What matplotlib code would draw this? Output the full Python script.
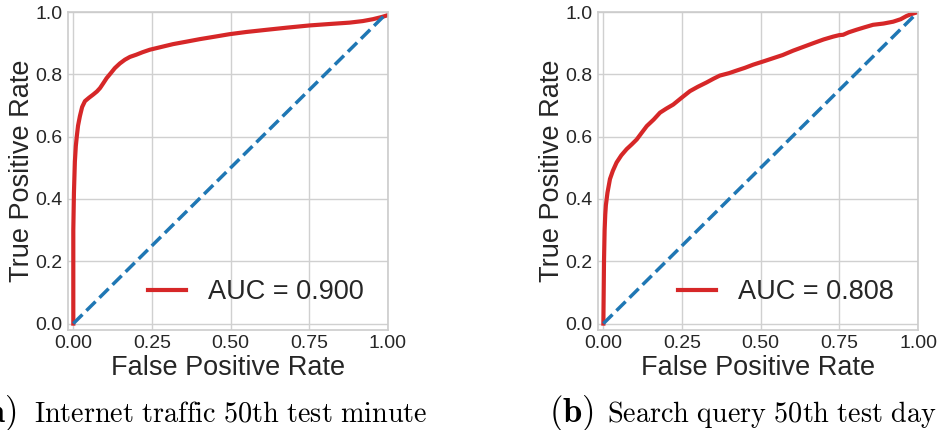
import matplotlib
matplotlib.use("Agg")
import matplotlib.pyplot as plt

plt.rcParams['font.family'] = ['Liberation Sans', 'DejaVu Sans']
plt.rcParams['mathtext.fontset'] = 'cm'

# ROC curve, internet traffic (50th test minute)
fpr_a = [0.0, 0.0, 0.002, 0.005, 0.008, 0.011, 0.015, 0.021, 0.028, 0.037,
         0.05, 0.063, 0.075, 0.085, 0.095, 0.106, 0.12, 0.132, 0.148, 0.164,
         0.18, 0.20, 0.22, 0.243, 0.28, 0.317, 0.36, 0.402, 0.45, 0.497,
         0.55, 0.614, 0.68, 0.751, 0.82, 0.878, 0.92, 0.952, 0.98, 1.0]
tpr_a = [0.0, 0.30, 0.42, 0.52, 0.57, 0.60, 0.635, 0.666, 0.695, 0.714,
         0.725, 0.735, 0.745, 0.756, 0.771, 0.788, 0.805, 0.82, 0.835, 0.847,
         0.856, 0.863, 0.871, 0.879, 0.888, 0.897, 0.905, 0.913, 0.921, 0.929,
         0.936, 0.943, 0.95, 0.957, 0.962, 0.966, 0.971, 0.977, 0.984, 0.99]
auc_a = 0.900

# ROC curve, search query (50th test day)
fpr_b = [0.0, 0.002, 0.004, 0.006, 0.008, 0.013, 0.021, 0.03, 0.042, 0.057,
         0.074, 0.09, 0.106, 0.12, 0.138, 0.16, 0.18, 0.20, 0.222, 0.25,
         0.275, 0.30, 0.328, 0.35, 0.37, 0.40, 0.423, 0.45, 0.476, 0.51,
         0.54, 0.57, 0.603, 0.635, 0.667, 0.70, 0.73, 0.75, 0.762, 0.78,
         0.804, 0.83, 0.857, 0.89, 0.921, 0.945, 0.963, 0.98, 1.0]
tpr_b = [0.0, 0.2, 0.3, 0.35, 0.38, 0.42, 0.464, 0.49, 0.517, 0.54,
         0.56, 0.575, 0.591, 0.61, 0.634, 0.655, 0.677, 0.69, 0.703, 0.726,
         0.746, 0.76, 0.774, 0.786, 0.796, 0.804, 0.812, 0.821, 0.831, 0.842,
         0.852, 0.862, 0.876, 0.888, 0.90, 0.912, 0.921, 0.926, 0.927, 0.935,
         0.943, 0.951, 0.959, 0.963, 0.969, 0.977, 0.987, 0.994, 1.0]
auc_b = 0.808

xticks = [0.0, 0.25, 0.5, 0.75, 1.0]
yticks = [0.0, 0.2, 0.4, 0.6, 0.8, 1.0]

cap_tags = [r'$\mathbf{(a)}$', r'$\mathbf{(b)}$']
cap_texts = [r'$\mathrm{Internet\ traffic\ 50th\ test\ minute}$',
             r'$\mathrm{Search\ query\ 50th\ test\ day}$']
# right edge of the tag, left edge of the text (figure fraction)
tag_x = [0.017, 0.630]
text_x = [0.036, 0.644]

fig = plt.figure(figsize=(9.43, 4.30), dpi=100)
axes = [fig.add_axes([0.0724, 0.233, 0.339, 0.739]),
        fig.add_axes([0.6345, 0.233, 0.339, 0.739])]

for ax, fpr, tpr, auc in zip(axes, [fpr_a, fpr_b], [tpr_a, tpr_b], [auc_a, auc_b]):
    ax.plot(fpr, tpr, color='#d62728', lw=3, label='AUC = %0.3f' % auc)
    ax.plot([0, 1], [0, 1], color='#1f77b4', lw=2.5, linestyle='--')
    ax.set_xlim(-0.016, 1.0)
    ax.set_ylim(-0.02, 1.0)
    ax.set_xticks(xticks)
    ax.set_xticklabels(['%.2f' % t for t in xticks])
    ax.set_yticks(yticks)
    ax.set_yticklabels(['%.1f' % t for t in yticks])
    ax.tick_params(length=0, labelsize=14, labelcolor='#262626', pad=4)
    ax.grid(True, color='#d0d0d0', lw=1)
    ax.set_axisbelow(True)
    for s in ax.spines.values():
        s.set_color('#cccccc')
        s.set_linewidth(1.2)
    ax.set_xlabel('False Positive Rate', fontsize=19.5, color='#262626', labelpad=2)
    ax.set_ylabel('True Positive Rate', fontsize=19.5, color='#262626', labelpad=0.5)
    leg = ax.legend(loc='lower right', fontsize=19.5, frameon=False, handlelength=1.4)
    for t in leg.get_texts():
        t.set_color('#262626')

for tx, tag, cx, cap in zip(tag_x, cap_tags, text_x, cap_texts):
    fig.text(tx, 0.019, tag, ha='right', va='baseline', fontsize=25, color='black')
    fig.text(cx, 0.019, cap, ha='left', va='baseline', fontsize=20.3, color='black')

fig.savefig('out.png', dpi=100)
